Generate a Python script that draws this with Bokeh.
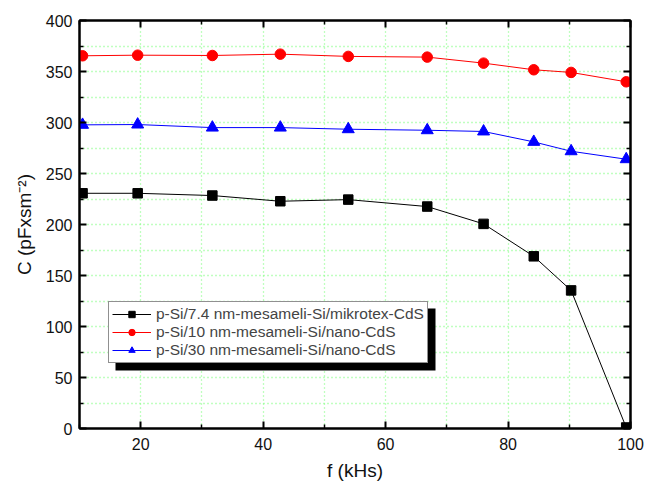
from bokeh.plotting import figure
from bokeh.models import (LinearAxis, FixedTicker, Range1d, Legend, LegendItem,
                          BoxAnnotation)
from bokeh.embed import file_html
from bokeh.resources import INLINE

# ---- data ----
freq = [10.5, 19.5, 31.7, 42.8, 53.9, 66.8, 76.0, 84.2, 90.3, 99.3]
c_mikrotex = [230.6, 230.6, 228.4, 222.8, 224.4, 217.6, 200.6, 168.8, 135.4, 1.0]
c_nano10 = [365.4, 366.0, 365.7, 367.0, 364.8, 364.1, 358.2, 351.7, 349.1, 339.9]
c_nano30 = [297.7, 298.0, 295.0, 295.0, 293.4, 292.4, 291.2, 281.0, 271.8, 264.0]
labels = ["p-Si/7.4 nm-mesameli-Si/mikrotex-CdS",
          "p-Si/10 nm-mesameli-Si/nano-CdS",
          "p-Si/30 nm-mesameli-Si/nano-CdS"]
x_major = [20, 40, 60, 80, 100]
x_minor = [10, 30, 50, 70, 90]
y_major = [0, 50, 100, 150, 200, 250, 300, 350, 400]
y_minor = [25, 75, 125, 175, 225, 275, 325, 375]

FONT = "Liberation Sans"
X0, X1, Y0, Y1 = 10, 100, 0, 400
BL, BR, BT, BB = 79, 15, 20, 55
W, H = 645, 483
FRAME_W, FRAME_H = W - BL - BR, H - BT - BB
GRID = "#80ff80"

p = figure(width=W, height=H, x_range=Range1d(X0, X1), y_range=Range1d(Y0, Y1),
           output_backend="svg", toolbar_location=None,
           min_border_left=BL, min_border_right=BR, min_border_top=BT,
           min_border_bottom=BB, x_axis_label="f (kHs)",
           y_axis_label="C (pFxsm\u207b\u00b2)")
p.outline_line_color = "black"
p.outline_line_width = 2

xt = FixedTicker(ticks=x_major, minor_ticks=x_minor)
yt = FixedTicker(ticks=y_major, minor_ticks=y_minor)

def style_axis(ax, ticker, labels_on=True):
    ax.ticker = ticker
    ax.axis_line_color = "black"
    ax.axis_line_width = 2
    ax.major_tick_line_width = 2
    ax.minor_tick_line_width = 1.5
    ax.major_tick_in = 7
    ax.major_tick_out = 0
    ax.minor_tick_in = 4
    ax.minor_tick_out = 0
    ax.major_label_text_font = FONT
    if labels_on:
        ax.major_label_text_font_size = "16px"
        ax.major_label_text_color = "#111111"
    else:
        ax.major_label_text_font_size = "1px"
        ax.major_label_text_color = None
        ax.major_label_standoff = 0
    ax.axis_label_text_font = FONT
    ax.axis_label_text_font_size = "19px"
    ax.axis_label_text_font_style = "normal"
    ax.axis_label_text_color = "#111111"

style_axis(p.xaxis[0], xt)
style_axis(p.yaxis[0], yt)
p.xaxis[0].major_label_standoff = 9
p.xaxis[0].axis_label_standoff = 7
p.yaxis[0].major_label_standoff = 7
p.yaxis[0].axis_label_standoff = 8

top = LinearAxis()
style_axis(top, xt, labels_on=False)
right = LinearAxis()
style_axis(right, yt, labels_on=False)
p.add_layout(top, "above")
p.add_layout(right, "right")

for g, t in ((p.xgrid[0], xt), (p.ygrid[0], yt)):
    g.ticker = t
    g.grid_line_color = GRID
    g.grid_line_dash = "1 3"
    g.grid_line_width = 1.3
    g.minor_grid_line_color = GRID
    g.minor_grid_line_dash = "1 3"
    g.minor_grid_line_width = 1.3

l1 = p.line(freq, c_mikrotex, color="black", line_width=1)
s1 = p.scatter(freq, c_mikrotex, marker="square", size=9.5, color="black")
l2 = p.line(freq, c_nano10, color="red", line_width=1)
s2 = p.scatter(freq, c_nano10, marker="circle", size=10.5, color="red")
l3 = p.line(freq, c_nano30, color="blue", line_width=1)
s3 = p.scatter(freq, c_nano30, marker="triangle", size=12, color="blue")

# legend placement (pixels from frame's bottom-left) and its shadow
LEG_X, LEG_Y, LEG_W, LEG_H, SH = 29, 65, 320, 62, 7
sx = (X1 - X0) / FRAME_W
sy = (Y1 - Y0) / FRAME_H
shadow = BoxAnnotation(left=X0 + (LEG_X + SH) * sx, right=X0 + (LEG_X + LEG_W + SH) * sx,
                       bottom=Y0 + (LEG_Y - SH) * sy, top=Y0 + (LEG_Y + LEG_H - SH) * sy,
                       fill_color="black", fill_alpha=1, line_color=None)
p.add_layout(shadow)

legend = Legend(items=[LegendItem(label=labels[0], renderers=[l1, s1]),
                       LegendItem(label=labels[1], renderers=[l2, s2]),
                       LegendItem(label=labels[2], renderers=[l3, s3])],
                location=(LEG_X, LEG_Y))
legend.border_line_color = "#222222"
legend.border_line_width = 1
legend.background_fill_color = "white"
legend.background_fill_alpha = 1
legend.label_text_font = FONT
legend.label_text_font_size = "15.5px"
legend.glyph_width = 39
legend.glyph_height = 16
legend.label_height = 16
legend.label_standoff = 5
legend.spacing = 0
legend.padding = 3
legend.margin = 0
p.add_layout(legend, "center")

open("out.html", "w").write(file_html(p, INLINE))
